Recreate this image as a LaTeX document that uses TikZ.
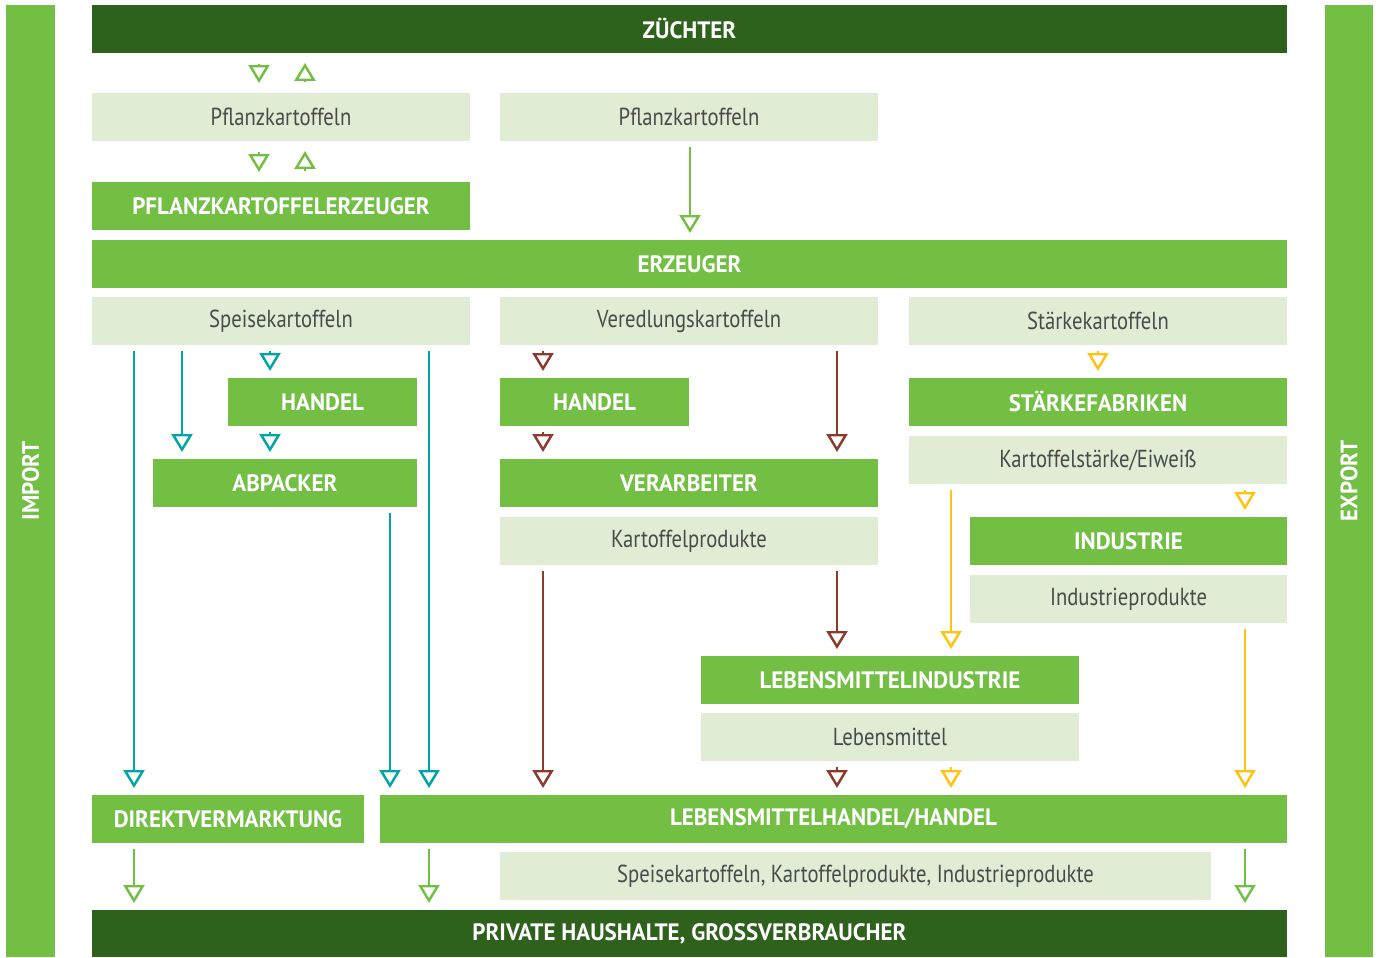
\documentclass[tikz,border=0pt]{standalone}
\usepackage{fontspec}
\newfontfamily\lightf{PT Sans}[FakeStretch=0.84]
\newfontfamily\capsf{PT Sans}[FakeStretch=0.97]
\usetikzlibrary{arrows.meta,positioning}

\definecolor{dunkelgruen}{HTML}{2E621C}
\definecolor{gruen}{HTML}{72BF44}
\definecolor{hellgruen}{HTML}{E0EDD4}
\definecolor{petrol}{HTML}{00A5A8}
\definecolor{rostbraun}{HTML}{8B3A2C}
\definecolor{goldgelb}{HTML}{FFC20E}
\definecolor{schrift}{HTML}{4A4A4A}

\tikzset{
  box/.style={inner sep=0pt, outer sep=0pt, minimum height=0.96cm},
  stufe/.style={box, fill=gruen, text=white, font=\capsf\bfseries\fontsize{13.5}{15}\selectfont},
  ende/.style={stufe, fill=dunkelgruen},
  ware/.style={box, fill=hellgruen, text=schrift, font=\lightf\fontsize{14}{16}\selectfont},
  fluss/.style={line width=1.4pt, -{Triangle[open, length=0.36cm, width=0.42cm]},
    shorten <=0.12cm, shorten >=0.14cm},
  spitze/.style={fluss, shorten <=0.22cm, shorten >=0.2cm},
}

\begin{document}
\begin{tikzpicture}[x=0.02cm, y=-0.02cm]
  \useasboundingbox (0,0) rectangle (1378,957);

  % Seitenleisten
  \node[stufe, rotate=90, minimum width=19.04cm, minimum height=0.98cm] (imp) at (30.5,481) {IMPORT};
  \node[stufe, rotate=90, minimum width=19.04cm, minimum height=0.96cm] (exp) at (1349,481) {EXPORT};

  % Stufen und Waren
  \node[ende, minimum width=23.9cm] (zu) at (689.5,29) {ZÜCHTER};
  \node[ware, minimum width=7.56cm] (pk1) at (281,117) {Pflanzkartoffeln};
  \node[ware, minimum width=7.56cm] (pk2) at (689,117) {Pflanzkartoffeln};
  \node[stufe, minimum width=7.56cm] (pke) at (281,206) {PFLANZKARTOFFELERZEUGER};
  \node[stufe, minimum width=23.9cm] (erz) at (689.5,264) {ERZEUGER};

  \node[ware, minimum width=7.56cm] (spk) at (281,321) {Speisekartoffeln};
  \node[ware, minimum width=7.56cm] (vek) at (689,321) {Veredlungskartoffeln};
  \node[ware, minimum width=7.56cm] (stk) at (1098,321) {Stärkekartoffeln};

  \node[stufe, minimum width=3.78cm] (han1) at (322.5,402) {HANDEL};
  \node[stufe, minimum width=3.78cm] (han2) at (594.5,402) {HANDEL};
  \node[stufe, minimum width=7.56cm] (stf) at (1098,402) {STÄRKEFABRIKEN};
  \node[ware, minimum width=7.56cm, below=0.2cm of stf] (kse) {Kartoffelstärke/Eiweiß};

  \node[stufe, minimum width=5.28cm] (abp) at (285,483) {ABPACKER};
  \node[stufe, minimum width=7.56cm] (ver) at (689,483) {VERARBEITER};
  \node[ware, minimum width=7.56cm, below=0.2cm of ver] (kpr) {Kartoffelprodukte};

  \node[stufe, minimum width=6.34cm] (ind) at (1128.5,541) {INDUSTRIE};
  \node[ware, minimum width=6.34cm, below=0.2cm of ind] (ipr) {Industrieprodukte};

  \node[stufe, minimum width=7.56cm] (lmi) at (890,680) {LEBENSMITTELINDUSTRIE};
  \node[ware, minimum width=7.56cm, below=0.18cm of lmi] (lm) {Lebensmittel};

  \node[stufe, minimum width=5.44cm] (dv) at (228,819) {DIREKTVERMARKTUNG};
  \node[stufe, minimum width=18.14cm] (lmh) at (833.5,819) {LEBENSMITTELHANDEL/HANDEL};
  \node[ware, minimum width=14.22cm] (sk3) at (855.5,876) {Speisekartoffeln, Kartoffelprodukte, Industrieprodukte};
  \node[ende, minimum width=23.9cm, minimum height=0.94cm] (ph) at (689.5,933.5) {PRIVATE HAUSHALTE, GROSSVERBRAUCHER};

  % Spalten der Pfeile
  \foreach \s in {134,182,259,270,305,390,429,543,690,837,951,1098,1245}
    \coordinate (s\s) at (\s,0);

  % Pflanzgut
  \draw[spitze, gruen] (zu.south -| s259) -- (pk1.north -| s259);
  \draw[spitze, gruen] (pk1.north -| s305) -- (zu.south -| s305);
  \draw[spitze, gruen] (pk1.south -| s259) -- (pke.north -| s259);
  \draw[spitze, gruen] (pke.north -| s305) -- (pk1.south -| s305);
  \draw[fluss, gruen] (pk2.south -| s690) -- (erz.north -| s690);

  % Speisekartoffeln
  \draw[fluss, petrol] (spk.south -| s134) -- (dv.north -| s134);
  \draw[fluss, petrol] (spk.south -| s182) -- (abp.north -| s182);
  \draw[fluss, petrol] (spk.south -| s270) -- (han1.north -| s270);
  \draw[fluss, petrol] (han1.south -| s270) -- (abp.north -| s270);
  \draw[fluss, petrol] (spk.south -| s429) -- (lmh.north -| s429);
  \draw[fluss, petrol] (abp.south -| s390) -- (lmh.north -| s390);

  % Veredlungskartoffeln
  \draw[fluss, rostbraun] (vek.south -| s543) -- (han2.north -| s543);
  \draw[fluss, rostbraun] (han2.south -| s543) -- (ver.north -| s543);
  \draw[fluss, rostbraun] (vek.south -| s837) -- (ver.north -| s837);
  \draw[fluss, rostbraun] (kpr.south -| s543) -- (lmh.north -| s543);
  \draw[fluss, rostbraun] (kpr.south -| s837) -- (lmi.north -| s837);
  \draw[fluss, rostbraun] (lm.south -| s837) -- (lmh.north -| s837);

  % Staerkekartoffeln
  \draw[fluss, goldgelb] (stk.south -| s1098) -- (stf.north -| s1098);
  \draw[fluss, goldgelb] (kse.south -| s951) -- (lmi.north -| s951);
  \draw[fluss, goldgelb] (kse.south -| s1245) -- (ind.north -| s1245);
  \draw[fluss, goldgelb] (ipr.south -| s1245) -- (lmh.north -| s1245);
  \draw[fluss, goldgelb] (lm.south -| s951) -- (lmh.north -| s951);

  % zum Verbraucher
  \draw[fluss, gruen] (dv.south -| s134) -- (ph.north -| s134);
  \draw[fluss, gruen] (lmh.south -| s429) -- (ph.north -| s429);
  \draw[fluss, gruen] (lmh.south -| s1245) -- (ph.north -| s1245);
\end{tikzpicture}
\end{document}
